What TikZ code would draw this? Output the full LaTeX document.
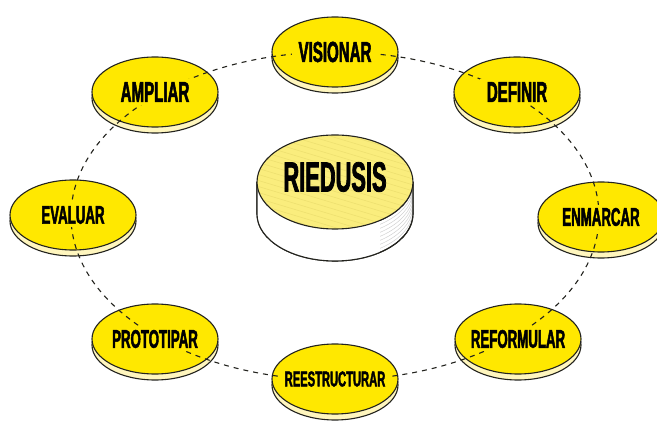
\documentclass[tikz,border=0pt]{standalone}
\usepackage{fontspec}
\usetikzlibrary{shapes.geometric,shadows}
\newfontfamily\lblfont{Liberation Sans}[UprightFont={* Bold}, FakeStretch=0.52, FakeBold=1.8]
\definecolor{discyellow}{RGB}{255,232,0}
\definecolor{disccream}{RGB}{255,246,190}
\definecolor{outline}{RGB}{35,35,30}
\definecolor{topyellow}{RGB}{250,237,125}
\definecolor{hatch}{RGB}{236,222,110}
\begin{document}
\begin{tikzpicture}[x=1pt,y=1pt,
  disc/.style={ellipse, minimum width=126pt, minimum height=70pt, inner sep=0pt,
    fill=discyellow, draw=outline, line width=1.1pt,
    copy shadow={shadow xshift=0pt, shadow yshift=-6pt, fill=disccream, draw=outline, line width=1.1pt}},
  lbl/.style={fill=discyellow, inner xsep=7pt, inner ysep=3pt, text=black,
    font=\lblfont\fontsize{29}{29}\selectfont},
  lblm/.style={lbl, font=\lblfont\fontsize{25.5}{26}\selectfont},
  lbls/.style={lbl, inner xsep=5pt, font=\lblfont\fontsize{21.5}{22}\selectfont},
  ring/.style={draw=outline, line width=1.1pt, dash pattern=on 5pt off 5pt}
]
\useasboundingbox (0,0) rectangle (657,423);
\fill[white] (0,0) rectangle (657,423);

% central cylinder
\draw[outline, fill=white, line width=1.1pt]
  (257,241) -- (257,209) arc[start angle=180, end angle=360, x radius=78, y radius=47]
  -- (413,241) arc[start angle=0, end angle=-180, x radius=78, y radius=47] -- cycle;
\begin{scope}
  \clip (257,241) -- (257,209) arc[start angle=180, end angle=360, x radius=78, y radius=47]
  -- (413,241) arc[start angle=0, end angle=-180, x radius=78, y radius=47] -- cycle;
  \foreach \k in {4,8,...,28}{
    \draw[black!18, line width=0.5pt] (335,241-\k) ellipse[x radius=78, y radius=47];
  }
  \fill[white] (250,150) rectangle (380,270);
\end{scope}
\draw[outline, line width=1.1pt]
  (257,241) -- (257,209) arc[start angle=180, end angle=360, x radius=78, y radius=47]
  -- (413,241);
\node[ellipse, minimum width=156pt, minimum height=94pt, inner sep=0pt,
  fill=topyellow] (rtop) at (335,241) {};
\begin{scope}
  \clip (335,241) ellipse[x radius=78, y radius=47];
  \foreach \k in {-60,-54,...,140}{
    \draw[hatch, line width=0.5pt] (240,200+\k) -- (430,200+\k-57);
  }
\end{scope}
\draw[outline, line width=1.1pt] (335,241) ellipse[x radius=78, y radius=47];
\node[text=black, font=\lblfont\fontsize{42}{42}\selectfont] (riedusis) at (335,246) {RIEDUSIS};

% outer discs
\node[disc] (dvis) at (335,371) {};
\node[disc] (ddef) at (517,331) {};
\node[disc] (denm) at (601,206) {};
\node[disc] (dref) at (518,84) {};
\node[disc] (dree) at (335,44) {};
\node[disc] (dpro) at (155,84) {};
\node[disc] (deva) at (73,208) {};
\node[disc] (damp) at (155,331) {};

% dashed ring
\draw[ring] (335,207) ellipse[x radius=264, y radius=164];

% labels
\node[lbl]  (tvis) at (dvis) {VISIONAR};
\node[lbl]  (tdef) at (ddef) {DEFINIR};
\node[lblm] (tenm) at (denm) {ENMARCAR};
\node[lblm] (tref) at (dref) {REFORMULAR};
\node[lbls] (tree) at (dree) {REESTRUCTURAR};
\node[lblm] (tpro) at (dpro) {PROTOTIPAR};
\node[lblm] (teva) at (deva) {EVALUAR};
\node[lbl]  (tamp) at (damp) {AMPLIAR};
\end{tikzpicture}
\end{document}
